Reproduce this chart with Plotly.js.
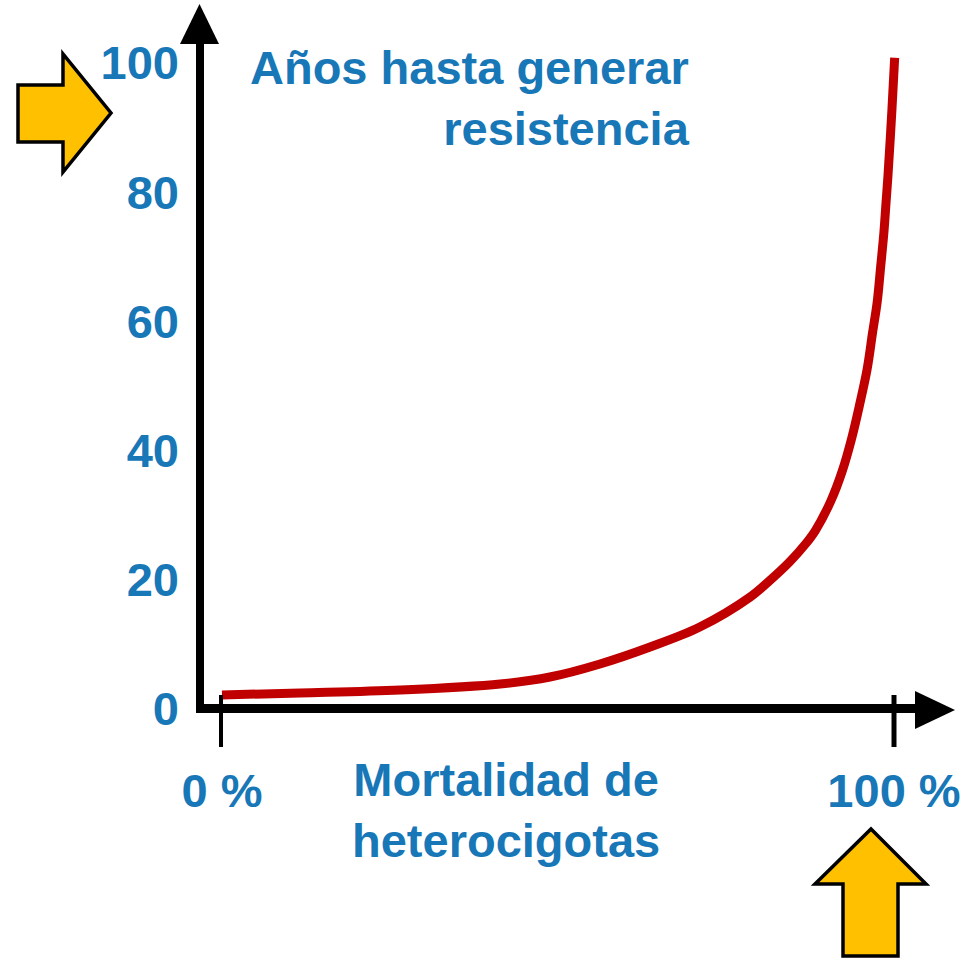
<!DOCTYPE html>
<html>
<head>
<meta charset="utf-8">
<script src="https://cdn.plot.ly/plotly-3.0.1.min.js"></script>
<style>html,body{margin:0;padding:0;background:#fff;}#chart{width:965px;height:960px;}</style>
</head>
<body>
<div id="chart"></div>
<script>
// ---- data ----
const mortalidad = [0, 11.6, 26.5, 41.4, 48.8, 56.25, 63.7, 71.1, 78.6, 81.5, 84.5, 86.8, 88.3, 90.6, 92.3, 93.75, 94.9, 96.0, 96.8, 97.5, 98.0, 98.5, 98.8, 99.1, 99.7, 100.1];
const anios      = [2.17, 2.48, 2.94, 3.87, 4.95, 6.97, 9.6, 12.69, 17.34, 19.88, 22.82, 25.5, 27.63, 32.2, 36.84, 42.1, 47.2, 52.6, 58.2, 63.0, 68.3, 73.8, 78.2, 82.5, 92.9, 100.8];
const yTickVals  = [0, 20, 40, 60, 80, 100];
const xTickVals  = [0, 100];
const xTickText  = ['0 %', '100 %'];
const yTitle = 'Años hasta generar<br>resistencia';
const xTitle = 'Mortalidad de<br>heterocigotas';

// ---- geometry ----
const W = 965, H = 960;
const X0 = 222, XS = 6.72;   // pixel of x=0, px per %
const Y0 = 709, YS = 6.46;   // pixel of y=0, px per year
const PX = p => p / W;
const PY = p => 1 - p / H;
const blue = '#1777B7';
const FONT = 'Liberation Sans, Arial, Helvetica, sans-serif';
const FS = 47;

function poly(pts) {
  return pts.map((p, i) => (i ? 'L' : 'M') + PX(p[0]).toFixed(5) + ',' + PY(p[1]).toFixed(5)).join(' ') + ' Z';
}

const shapes = [
  // y axis line + arrow head
  {type: 'path', xref: 'paper', yref: 'paper', path: poly([[196,43],[204,43],[204,713],[196,713]]), fillcolor: '#000', line: {width: 0}},
  {type: 'path', xref: 'paper', yref: 'paper', path: poly([[180,44],[219,44],[199.5,4]]), fillcolor: '#000', line: {width: 0}},
  // x axis line + arrow head
  {type: 'path', xref: 'paper', yref: 'paper', path: poly([[196,704],[916,704],[916,713],[196,713]]), fillcolor: '#000', line: {width: 0}},
  {type: 'path', xref: 'paper', yref: 'paper', path: poly([[915,691],[915,729],[955,710]]), fillcolor: '#000', line: {width: 0}},
  // tick marks
  {type: 'line', xref: 'paper', yref: 'paper', x0: PX(221), x1: PX(221), y0: PY(695), y1: PY(747), line: {color: '#000', width: 4}},
  {type: 'line', xref: 'paper', yref: 'paper', x0: PX(894), x1: PX(894), y0: PY(695), y1: PY(747), line: {color: '#000', width: 5}},
  // yellow arrows
  {type: 'path', xref: 'paper', yref: 'paper',
   path: poly([[18,85],[63,85],[63,54],[111,113],[63,172],[63,142],[18,142]]),
   fillcolor: '#FFC000', line: {color: '#000', width: 3.5}},
  {type: 'path', xref: 'paper', yref: 'paper',
   path: poly([[843,956],[843,884],[815,884],[871,829],[926,884],[898,884],[898,956]]),
   fillcolor: '#FFC000', line: {color: '#000', width: 3.5}}
];

const annotations = [
  {xref: 'paper', yref: 'paper', x: PX(692), y: PY(98), xanchor: 'right', yanchor: 'middle', align: 'right',
   text: yTitle, showarrow: false, font: {family: FONT, size: FS, color: blue, weight: 'bold'}},
  {xref: 'paper', yref: 'paper', x: PX(506), y: PY(810), xanchor: 'center', yanchor: 'middle', align: 'center',
   text: xTitle, showarrow: false, font: {family: FONT, size: FS, color: blue, weight: 'bold'}}
];

const trace = {
  x: mortalidad, y: anios, type: 'scatter', mode: 'lines',
  line: {color: '#C00000', width: 9, shape: 'spline', smoothing: 1},
  hoverinfo: 'skip'
};

const layout = {
  width: W, height: H,
  margin: {l: 0, r: 0, t: 0, b: 0},
  paper_bgcolor: '#fff', plot_bgcolor: '#fff',
  showlegend: false,
  xaxis: {
    range: [(0 - X0) / XS, (W - X0) / XS], domain: [0, 1],
    anchor: 'free', position: PY(708),
    showgrid: false, zeroline: false, showline: false, ticks: '',
    tickvals: xTickVals, ticktext: xTickText, ticklabelstandoff: 51,
    tickfont: {family: FONT, size: FS, color: blue, weight: 'bold'},
    fixedrange: true
  },
  yaxis: {
    range: [(Y0 - H) / YS, Y0 / YS], domain: [0, 1],
    anchor: 'free', position: PX(200),
    showgrid: false, zeroline: false, showline: false, ticks: '',
    tickvals: yTickVals, ticklabelstandoff: 21,
    tickfont: {family: FONT, size: FS, color: blue, weight: 'bold'},
    fixedrange: true
  },
  shapes: shapes,
  annotations: annotations
};

Plotly.newPlot('chart', [trace], layout, {displayModeBar: false, staticPlot: true});
</script>
</body>
</html>
